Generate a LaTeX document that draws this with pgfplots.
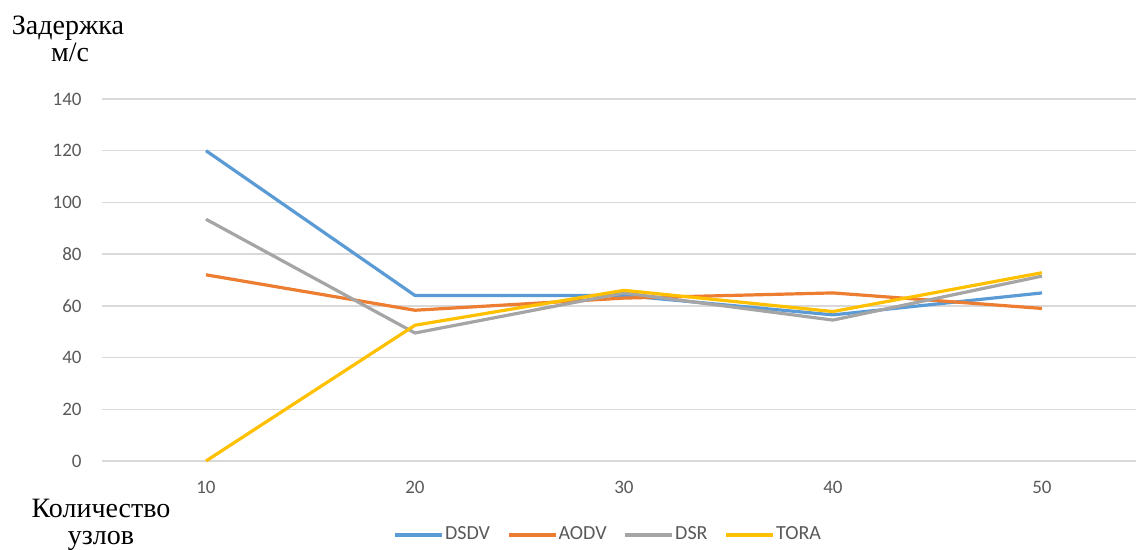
\documentclass[border=0pt]{standalone}
\usepackage{fontspec}
\setmainfont{Liberation Serif}
\newfontfamily\calibri{Carlito}
\usepackage{pgfplots}
\pgfplotsset{compat=1.18}
\definecolor{sblue}{HTML}{5B9BD5}
\definecolor{sorange}{HTML}{ED7D31}
\definecolor{sgray}{HTML}{A5A5A5}
\definecolor{syellow}{HTML}{FFC000}
\definecolor{gridgray}{HTML}{D9D9D9}
\definecolor{tickgray}{HTML}{595959}
\begin{document}
\begin{tikzpicture}
\path[use as bounding box] (0,0) rectangle (568pt,275pt);
\begin{axis}[
  at={(50.75pt,44.5pt)}, anchor=south west,
  scale only axis, width=517.25pt, height=181pt,
  xmin=5, xmax=54.5, ymin=0, ymax=140,
  xtick={10,20,30,40,50}, ytick={0,20,...,140},
  axis line style={draw=none}, major tick length=0pt,
  ymajorgrids, grid style={color=gridgray, line width=0.75pt},
  tick label style={font=\calibri\fontsize{9.5}{11}\selectfont, text=tickgray},
  /pgf/number format/assume math mode=true,
  xticklabel style={anchor=center, yshift=-13pt},
  yticklabel style={anchor=east, inner sep=0pt, xshift=-9.75pt},
  clip=false,
  legend columns=4,
  legend style={at={(0.4896,-0.2044)}, anchor=center, draw=none, fill=none,
    font=\calibri\fontsize{10}{11}\selectfont, text=tickgray,
    /tikz/every even column/.append style={column sep=8pt},
    nodes={inner sep=0.6pt}},
  legend image code/.code={\draw[line width=1.6pt] (0pt,0pt) -- (23.5pt,0pt);},
  every axis plot/.append style={line width=1.6pt, line join=round, mark=none},
]
\addplot[color=sblue] coordinates {(10,120) (20,64) (30,64) (40,56.5) (50,65)};
\addlegendentry{DSDV}
\addplot[color=sorange] coordinates {(10,72) (20,58.3) (30,63) (40,65) (50,59)};
\addlegendentry{AODV}
\addplot[color=sgray] coordinates {(10,93.5) (20,49.5) (30,65) (40,54.5) (50,71.5)};
\addlegendentry{DSR}
\addplot[color=syellow] coordinates {(10,0) (20,52.5) (30,66) (40,57.8) (50,72.8)};
\addlegendentry{TORA}
\end{axis}
\node[anchor=base, font=\fontsize{14}{14}\selectfont] at (34pt,257.5pt) {Задержка};
\node[anchor=base, font=\fontsize{14}{14}\selectfont] at (35pt,244pt) {м/с};
\node[anchor=base, font=\fontsize{14}{14}\selectfont] at (50.5pt,16pt) {Количество};
\node[anchor=base, font=\fontsize{14}{14}\selectfont] at (50.5pt,2.5pt) {узлов};
\end{tikzpicture}
\end{document}
